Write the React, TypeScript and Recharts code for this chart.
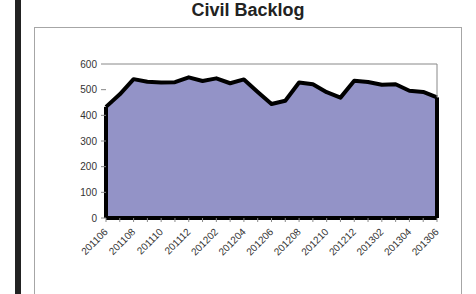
import { AreaChart, Area, XAxis, YAxis, ReferenceLine } from "recharts";

const months = [
  "201106", "201107", "201108", "201109", "201110", "201111", "201112",
  "201201", "201202", "201203", "201204", "201205", "201206", "201207",
  "201208", "201209", "201210", "201211", "201212", "201301", "201302",
  "201303", "201304", "201305", "201306",
];
const backlog = [
  433, 482, 541, 531, 528, 529, 548, 534, 544, 525, 540, 491, 444, 457,
  528, 521, 490, 469, 535, 530, 519, 521, 496, 491, 470,
];
const yTicks = [0, 100, 200, 300, 400, 500, 600];

const data = months.map((month, i) => ({ month, backlog: backlog[i] }));
const first = months[0];
const last = months[months.length - 1];

// every month gets a tick mark, only every other one gets a label
function MonthTick(props: any) {
  const { x, y, payload, index } = props;
  if (index % 2 !== 0) return <g />;
  return (
    <g transform={`translate(${x}, ${y + 6}) rotate(-45)`}>
      <text x={0} y={0} textAnchor="end" dy="0.35em" fontSize={10} fill="#333">
        {payload.value}
      </text>
    </g>
  );
}

export default function App() {
  return (
    <div
      style={{
        position: "absolute",
        left: 0,
        top: 0,
        width: 476,
        height: 294,
        overflow: "hidden",
        background: "#fff",
        fontFamily: "'Liberation Sans', Arial, sans-serif",
      }}
    >
      <div style={{ position: "absolute", left: 15, top: 0, width: 6, height: 294, background: "#222" }} />
      <div
        style={{
          position: "absolute",
          left: 34,
          top: 27,
          width: 426,
          height: 300,
          border: "1px solid #a6a6a6",
        }}
      />
      <div
        style={{
          position: "absolute",
          left: 34,
          top: 0,
          width: 428,
          textAlign: "center",
          fontWeight: "bold",
          fontSize: 18,
          color: "#222",
        }}
      >
        Civil Backlog
      </div>
      <div style={{ position: "absolute", left: 34, top: 27 }}>
        <AreaChart
          width={427}
          height={267}
          data={data}
          margin={{ top: 37, right: 24, bottom: 0, left: 0 }}
        >
          <XAxis
            dataKey="month"
            height={76}
            interval={0}
            axisLine={false}
            tickLine={{ stroke: "#888" }}
            tickSize={4}
            tick={<MonthTick />}
          />
          <YAxis
            width={72}
            domain={[0, 600]}
            ticks={yTicks}
            axisLine={false}
            tickLine={{ stroke: "#888" }}
            tickSize={5}
            tickMargin={4}
            tick={{ fontSize: 10, fill: "#333" }}
          />
          <ReferenceLine y={600} stroke="#888" strokeWidth={1} />
          <ReferenceLine
            segment={[{ x: last, y: backlog[backlog.length - 1] }, { x: last, y: 600 }]}
            stroke="#888"
            strokeWidth={1}
          />
          <Area
            type="linear"
            dataKey="backlog"
            stroke="#000"
            strokeWidth={4}
            strokeLinejoin="round"
            fill="#9393c7"
            fillOpacity={1}
            isAnimationActive={false}
          />
          <ReferenceLine y={0} stroke="#000" strokeWidth={4} />
          <ReferenceLine
            segment={[{ x: first, y: 0 }, { x: first, y: backlog[0] }]}
            stroke="#000"
            strokeWidth={4}
          />
          <ReferenceLine
            segment={[{ x: last, y: 0 }, { x: last, y: backlog[backlog.length - 1] }]}
            stroke="#000"
            strokeWidth={4}
          />
        </AreaChart>
      </div>
    </div>
  );
}
